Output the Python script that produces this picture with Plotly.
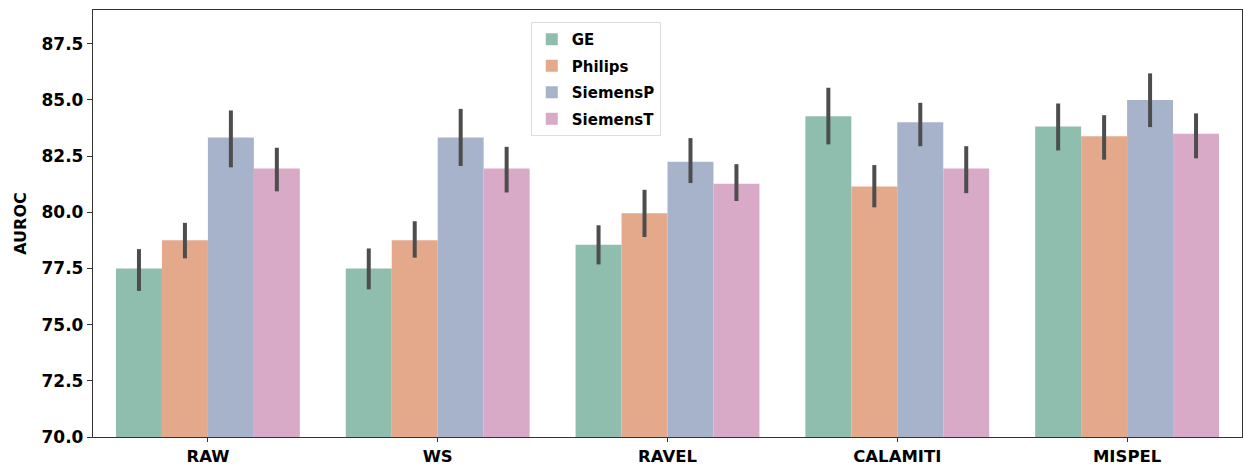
import plotly.graph_objects as go

methods = ["RAW", "WS", "RAVEL", "CALAMITI", "MISPEL"]
scanners = ["GE", "Philips", "SiemensP", "SiemensT"]

# mean AUROC per scanner across methods
ge = [77.50, 77.50, 78.56, 84.27, 83.82]
philips = [78.76, 78.76, 79.96, 81.15, 83.38]
siemensp = [83.33, 83.33, 82.25, 84.00, 85.00]
siemenst = [81.95, 81.95, 81.27, 81.95, 83.49]

# error bar upper / lower ends
ge_hi = [78.36, 78.39, 79.42, 85.54, 84.84]
ge_lo = [76.50, 76.57, 77.68, 83.02, 82.75]
philips_hi = [79.53, 79.60, 81.00, 82.10, 84.32]
philips_lo = [77.95, 77.98, 78.90, 80.22, 82.34]
siemensp_hi = [84.53, 84.60, 83.30, 84.87, 86.18]
siemensp_lo = [82.00, 82.06, 81.30, 82.94, 83.79]
siemenst_hi = [82.87, 82.91, 82.14, 82.94, 84.40]
siemenst_lo = [80.93, 80.88, 80.50, 80.85, 82.40]

colors = ["#8fbeaf", "#e3a98a", "#a7b3cb", "#d9aac8"]

series = [
    (ge, ge_hi, ge_lo),
    (philips, philips_hi, philips_lo),
    (siemensp, siemensp_hi, siemensp_lo),
    (siemenst, siemenst_hi, siemenst_lo),
]

fig = go.Figure()
for name, color, (vals, hi, lo) in zip(scanners, colors, series):
    fig.add_trace(go.Bar(
        name=name,
        legendgroup=name,
        x=methods,
        y=vals,
        marker=dict(color=color, line=dict(width=0)),
        error_y=dict(
            type="data",
            symmetric=False,
            array=[h - v for h, v in zip(hi, vals)],
            arrayminus=[v - l for v, l in zip(vals, lo)],
            color="#4d4d4d",
            thickness=4,
            width=0,
        ),
    ))

font_family = "DejaVu Sans"
fig.update_layout(
    width=1243,
    height=466,
    margin=dict(l=93, r=1, t=10, b=29, autoexpand=False),
    paper_bgcolor="white",
    plot_bgcolor="white",
    barmode="group",
    bargap=0.2,
    bargroupgap=0,
    font=dict(family=font_family, size=16, color="black"),
    legend=dict(
        x=0.381,
        y=0.972,
        xanchor="left",
        yanchor="top",
        bgcolor="white",
        bordercolor="#dddddd",
        borderwidth=1,
        font=dict(family=font_family, size=15, color="black", weight="bold"),
        tracegroupgap=4,
    ),
    xaxis=dict(
        range=[-0.5, 4.5],
        showline=True,
        linecolor="#333333",
        linewidth=1.3,
        mirror=True,
        ticks="outside",
        ticklen=4,
        tickcolor="#333333",
        showgrid=False,
        tickfont=dict(family=font_family, size=16.5, color="black", weight="bold"),
    ),
    yaxis=dict(
        range=[70, 89.0],
        tickvals=[70, 72.5, 75, 77.5, 80, 82.5, 85, 87.5],
        ticktext=["70.0", "72.5", "75.0", "77.5", "80.0", "82.5", "85.0", "87.5"],
        showline=True,
        linecolor="#333333",
        linewidth=1.3,
        mirror=True,
        ticks="outside",
        ticklen=5,
        tickcolor="#333333",
        showgrid=False,
        zeroline=False,
        tickfont=dict(family=font_family, size=17, color="black", weight="bold"),
        title=dict(text="AUROC", font=dict(family=font_family, size=16, color="black", weight="bold"), standoff=10),
    ),
)

fig.write_html(
    "out.html",
    config={"displayModeBar": False},
    post_script="document.body.style.margin='0';document.body.style.overflow='hidden';",
)
